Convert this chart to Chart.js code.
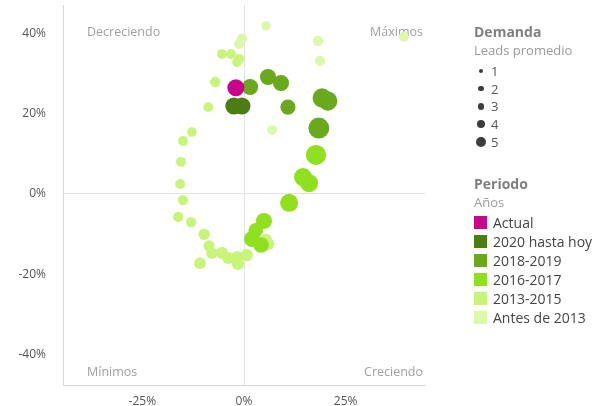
<!DOCTYPE html>
<html lang="es">
<head>
<meta charset="utf-8">
<script src="https://cdn.jsdelivr.net/npm/chart.js@4.4.1/dist/chart.umd.min.js"></script>
<style>
  body { margin: 0; background: #fff; font-family: "Open Sans", sans-serif; }
  #wrap { position: relative; width: 606px; height: 406px; overflow: hidden; }
  #legend { position: absolute; left: 474px; top: 22px; color: #444; }
  .ttl { font-weight: bold; font-size: 14px; color: #808080; line-height: 19px; }
  .sub { font-size: 13px; color: #9a9a9a; line-height: 18px; margin-bottom: 3px; }
  .dot-row { display: flex; align-items: center; height: 17.7px; font-size: 13px; color: #555; }
  .dot-box { width: 14px; display: flex; justify-content: center; margin-right: 3px; }
  .dot { border-radius: 50%; background: #3c3c3c; }
  .sq-row { display: flex; align-items: center; height: 19.2px; font-size: 14px; color: #444; }
  .sq { width: 13px; height: 13px; margin-right: 6px; }
</style>
</head>
<body>
<div id="wrap">
  <canvas id="chart" width="606" height="406"></canvas>
  <div id="legend"></div>
</div>
<script>
// values: x = change %, y = position %, leads = avg leads
const actualX = [-2.0];
const actualY = [26.4];
const actualLeads = [3.6];

const y2020X = [-2.5, -0.5];
const y2020Y = [21.9, 21.9];
const y2020Leads = [3.6, 3.6];

const y2018X = [1.5, 5.9, 9.1, 10.8, 19.2, 20.6, 18.4];
const y2018Y = [26.6, 29.1, 27.6, 21.6, 23.9, 23.1, 16.4];
const y2018Leads = [3.2, 3.2, 3.2, 2.8, 4.5, 4.5, 5.4];

const y2016X = [17.7, 14.5, 16.0, 11.1, 4.9, 2.9, 2.0, 4.2];
const y2016Y = [9.7, 4.2, 2.7, -2.2, -6.7, -9.0, -11.2, -12.7];
const y2016Leads = [5.0, 4.0, 4.0, 4.0, 3.2, 2.6, 3.2, 3.0];

const y2013X = [-1.7, -1.2, -5.4, -3.2, -7.1, -8.8, -12.8, -15.0, -15.5, -15.7, -15.0, -16.2,
  -13.0, -9.8, -8.6, -7.9, -5.4, -3.9, -1.7, -1.5, 0.7, -10.8, 5.9, 5.4];
const y2013Y = [32.8, 33.6, 34.8, 34.8, 27.9, 21.6, 15.4, 13.2, 8.0, 2.5, -1.5, -5.7,
  -7.0, -10.0, -12.9, -14.7, -14.7, -15.9, -15.7, -17.4, -15.2, -17.2, -12.4, -11.4];
const y2013Leads = [1.2, 1.2, 1.2, 1.2, 1.3, 1.2, 1.1, 1.2, 1.2, 1.2, 1.3, 1.3,
  1.3, 1.6, 1.5, 1.6, 1.8, 1.8, 1.8, 1.9, 1.8, 1.7, 1.9, 1.8];

const oldX = [5.4, 18.2, 18.7, 39.3, 6.9, -0.5, -1.2];
const oldY = [41.8, 38.1, 33.1, 39.1, 15.9, 38.6, 37.3];
const oldLeads = [1.1, 1.3, 1.3, 1.2, 1.2, 1.2, 1.2];

const periodLabels = ['Actual', '2020 hasta hoy', '2018-2019', '2016-2017', '2013-2015', 'Antes de 2013'];
const periodColors = ['#c8068c', '#4b7d12', '#6aa81e', '#8fe01e', '#c6f57a', '#dcf9aa'];
const leadSteps = [1, 2, 3, 4, 5];
const xTicks = [-25, 0, 25];
const yTicks = [40, 20, 0, -20, -40];

const seriesX = [actualX, y2020X, y2018X, y2016X, y2013X, oldX];
const seriesY = [actualY, y2020Y, y2018Y, y2016Y, y2013Y, oldY];
const seriesLeads = [actualLeads, y2020Leads, y2018Leads, y2016Leads, y2013Leads, oldLeads];

function leadRadius(v) {
  return 4.5 * Math.sqrt(v);
}

const datasets = periodLabels.map((label, i) => ({
  label,
  data: seriesX[i].map((x, j) => ({ x, y: seriesY[i][j], leads: seriesLeads[i][j] })),
  backgroundColor: periodColors[i],
  borderWidth: 0,
  pointRadius: ctx => leadRadius(ctx.raw.leads),
  pointHoverRadius: ctx => leadRadius(ctx.raw.leads)
}));

const quadrantLabels = {
  id: 'quadrantLabels',
  beforeDatasetsDraw(chart) {
    const { ctx, chartArea: a } = chart;
    ctx.save();
    ctx.font = '12.5px "Open Sans", sans-serif';
    ctx.fillStyle = '#a0a0a0';
    ctx.textBaseline = 'middle';
    ctx.textAlign = 'left';
    ctx.fillText('Decreciendo', a.left + 24, a.top + 27);
    ctx.fillText('Mínimos', a.left + 24, a.bottom - 13);
    ctx.textAlign = 'right';
    ctx.fillText('Máximos', a.right - 2, a.top + 27);
    ctx.fillText('Creciendo', a.right - 2, a.bottom - 13);
    ctx.restore();
  }
};

const tickFont = { family: '"Open Sans", sans-serif', size: 12 };

new Chart(document.getElementById('chart'), {
  type: 'scatter',
  data: { datasets },
  plugins: [quadrantLabels],
  options: {
    responsive: false,
    animation: false,
    layout: { autoPadding: false, padding: { top: 5, right: 181, left: 0, bottom: 0 } },
    plugins: {
      legend: { display: false },
      tooltip: { enabled: false }
    },
    scales: {
      x: {
        min: -44.5,
        max: 44.5,
        afterBuildTicks: s => { s.ticks = xTicks.map(v => ({ value: v })); },
        afterFit: s => { s.height = 21; s.paddingLeft = 0; s.paddingRight = 0; },
        grid: {
          drawTicks: false,
          color: c => (c.tick && c.tick.value === 0 ? '#e2e2e2' : 'rgba(0,0,0,0)')
        },
        border: { color: '#d6d6d6' },
        ticks: { padding: 9, color: '#555', font: tickFont, callback: v => v + '%' }
      },
      y: {
        min: -47.5,
        max: 47,
        afterBuildTicks: s => { s.ticks = yTicks.map(v => ({ value: v })); },
        afterFit: s => { s.width = 63; s.paddingTop = 0; s.paddingBottom = 0; },
        grid: {
          drawTicks: false,
          color: c => (c.tick && c.tick.value === 0 ? '#e2e2e2' : 'rgba(0,0,0,0)')
        },
        border: { color: '#d6d6d6' },
        ticks: { padding: 17, color: '#555', font: tickFont, callback: v => v + '%' }
      }
    }
  }
});

// legend built from the same arrays
const legend = document.getElementById('legend');
let html = '<div class="ttl">Demanda</div><div class="sub">Leads promedio</div>';
leadSteps.forEach(n => {
  const d = 2 * (1.2 + 0.75 * n);
  html += `<div class="dot-row"><span class="dot-box"><span class="dot" style="width:${d}px;height:${d}px"></span></span>${n}</div>`;
});
html += '<div class="ttl" style="margin-top:24px">Periodo</div><div class="sub" style="margin-bottom:1px">Años</div>';
periodLabels.forEach((label, i) => {
  html += `<div class="sq-row"><span class="sq" style="background:${periodColors[i]}"></span>${label}</div>`;
});
legend.innerHTML = html;
</script>
</body>
</html>
